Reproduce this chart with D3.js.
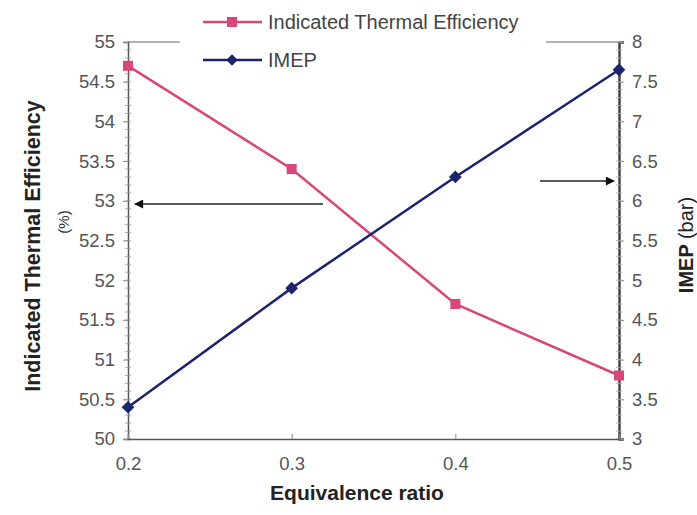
<!DOCTYPE html>
<html>
<head>
<meta charset="utf-8">
<script src="https://cdn.jsdelivr.net/npm/d3@7"></script>
<style>
  body { margin: 0; background: #fff; }
  svg { display: block; font-family: Arial, "Liberation Sans", sans-serif; }
</style>
</head>
<body>
<svg id="chart" width="697" height="515"></svg>
<script>
// data
const ratios = [0.2, 0.3, 0.4, 0.5];
const efficiency = [54.7, 53.4, 51.7, 50.8];   // %
const imep = [3.4, 4.9, 6.3, 7.65];             // bar
const xTicks = [0.2, 0.3, 0.4, 0.5];
const leftTicks = [50, 50.5, 51, 51.5, 52, 52.5, 53, 53.5, 54, 54.5, 55];
const rightTicks = [3, 3.5, 4, 4.5, 5, 5.5, 6, 6.5, 7, 7.5, 8];

const PINK = "#d9467a";
const NAVY = "#1d246e";
const AXIS = "#555";
const LABEL = "#555";
const TICK_FONT = 18.5;

const svg = d3.select("#chart");
const m = { left: 128, right: 619, top: 42, bottom: 439 };

const x = d3.scaleLinear().domain([0.2, 0.5]).range([m.left, m.right]);
const yL = d3.scaleLinear().domain([50, 55]).range([m.bottom, m.top]);
const yR = d3.scaleLinear().domain([3, 8]).range([m.bottom, m.top]);

// top border of the plot area (legend box sits over part of it)
svg.append("line")
  .attr("x1", m.left).attr("x2", m.right)
  .attr("y1", m.top).attr("y2", m.top)
  .attr("stroke", "#666").attr("stroke-width", 1.2);

// left axis
const gL = svg.append("g").attr("transform", `translate(${m.left},0)`)
  .call(d3.axisLeft(yL).tickValues(leftTicks).tickSize(5).tickPadding(8)
    .tickFormat(d => d3.format("")(d)));
// minor ticks on the left axis
svg.append("g").selectAll("line")
  .data(d3.range(500, 551).map(v => v / 10))
  .join("line")
  .attr("x1", m.left - 3).attr("x2", m.left + 3)
  .attr("y1", d => yL(d)).attr("y2", d => yL(d))
  .attr("stroke", "#999").attr("stroke-width", 0.8);

// right axis
const gR = svg.append("g").attr("transform", `translate(${m.right},0)`)
  .call(d3.axisRight(yR).tickValues(rightTicks).tickSize(5).tickPadding(8)
    .tickFormat(d => d3.format("")(d)));
svg.append("g").selectAll("line")
  .data(d3.range(30, 81).map(v => v / 10))
  .join("line")
  .attr("x1", m.right - 3).attr("x2", m.right + 3)
  .attr("y1", d => yR(d)).attr("y2", d => yR(d))
  .attr("stroke", "#aaa").attr("stroke-width", 0.8);

// bottom axis
const gB = svg.append("g").attr("transform", `translate(0,${m.bottom})`)
  .call(d3.axisBottom(x).tickValues(xTicks).tickSize(-5).tickPadding(18)
    .tickFormat(d3.format(".1f")));

[gL, gR, gB].forEach(g => {
  g.select(".domain").attr("stroke", AXIS).attr("stroke-width", 1.5);
  g.selectAll(".tick line").attr("stroke", "#888");
  g.selectAll(".tick text").attr("fill", LABEL).attr("font-size", TICK_FONT)
    .attr("font-family", "Arial, 'Liberation Sans', sans-serif");
});
gR.select(".domain").attr("stroke", "#444").attr("stroke-width", 2.5);

// series
const pts = ratios.map((r, i) => ({ r, eff: efficiency[i], imep: imep[i] }));

svg.append("path").datum(pts)
  .attr("fill", "none").attr("stroke", PINK).attr("stroke-width", 2.5)
  .attr("d", d3.line().x(d => x(d.r)).y(d => yL(d.eff)));
svg.append("g").selectAll("rect").data(pts).join("rect")
  .attr("x", d => x(d.r) - 5).attr("y", d => yL(d.eff) - 5)
  .attr("width", 10).attr("height", 10).attr("fill", PINK);

svg.append("path").datum(pts)
  .attr("fill", "none").attr("stroke", NAVY).attr("stroke-width", 2.5)
  .attr("d", d3.line().x(d => x(d.r)).y(d => yR(d.imep)));
svg.append("g").selectAll("path.dia").data(pts).join("path")
  .attr("class", "dia")
  .attr("transform", d => `translate(${x(d.r)},${yR(d.imep)}) rotate(45)`)
  .attr("d", "M-4.5,-4.5H4.5V4.5H-4.5Z").attr("fill", NAVY);

// arrows pointing to the matching axes
const defs = svg.append("defs");
defs.append("marker").attr("id", "head")
  .attr("viewBox", "0 0 10 10").attr("refX", 9).attr("refY", 5)
  .attr("markerWidth", 9).attr("markerHeight", 6).attr("orient", "auto")
  .append("path").attr("d", "M0,0L10,5L0,10Z").attr("fill", "#111");

svg.append("line")
  .attr("x1", 323).attr("y1", 204).attr("x2", 135).attr("y2", 204)
  .attr("stroke", "#222").attr("stroke-width", 1.5).attr("marker-end", "url(#head)");
svg.append("line")
  .attr("x1", 540).attr("y1", 181).attr("x2", 614).attr("y2", 181)
  .attr("stroke", "#222").attr("stroke-width", 1.5).attr("marker-end", "url(#head)");

// legend (white box covering top border)
const lg = svg.append("g");
lg.append("rect").attr("x", 180).attr("y", 2).attr("width", 366).attr("height", 76)
  .attr("fill", "#fff");
const legendItems = [
  { name: "Indicated Thermal Efficiency", color: PINK, shape: "square", y: 22 },
  { name: "IMEP", color: NAVY, shape: "diamond", y: 60 }
];
legendItems.forEach(it => {
  lg.append("line").attr("x1", 203).attr("x2", 262).attr("y1", it.y).attr("y2", it.y)
    .attr("stroke", it.color).attr("stroke-width", 2.5);
  if (it.shape === "square") {
    lg.append("rect").attr("x", 227).attr("y", it.y - 5).attr("width", 10).attr("height", 10)
      .attr("fill", it.color);
  } else {
    lg.append("path").attr("transform", `translate(232,${it.y}) rotate(45)`)
      .attr("d", "M-4,-4H4V4H-4Z").attr("fill", it.color);
  }
  lg.append("text").attr("x", 268).attr("y", it.y + 7)
    .attr("font-size", 20).attr("fill", "#444").text(it.name);
});

// axis titles
svg.append("text")
  .attr("x", 357).attr("y", 500).attr("text-anchor", "middle")
  .attr("font-size", 21).attr("font-weight", "bold").attr("fill", "#222")
  .text("Equivalence ratio");

svg.append("text")
  .attr("transform", "translate(40,246) rotate(-90)").attr("text-anchor", "middle")
  .attr("font-size", 21.5).attr("font-weight", "bold").attr("fill", "#222")
  .text("Indicated Thermal Efficiency");
svg.append("text")
  .attr("transform", "translate(69,222) rotate(-90)").attr("text-anchor", "middle")
  .attr("font-size", 15).attr("fill", "#333")
  .text("(%)");

const rt = svg.append("text")
  .attr("transform", "translate(693,245) rotate(-90)").attr("text-anchor", "middle")
  .attr("font-size", 20).attr("fill", "#222");
rt.append("tspan").attr("font-weight", "bold").text("IMEP ");
rt.append("tspan").text("(bar)");
</script>
</body>
</html>
